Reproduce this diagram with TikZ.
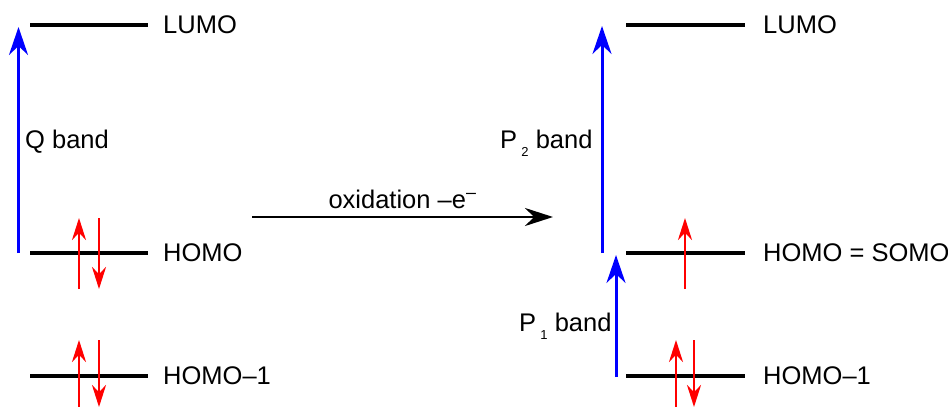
\documentclass[tikz,border=0pt]{standalone}
\usepackage{fontspec}
\setmainfont{Liberation Sans}
\usetikzlibrary{arrows.meta,positioning}

\tikzstyle{level} = [line width=3.2pt]
\tikzstyle{lbl} = [inner sep=0pt]
\tikzstyle{band} = [anchor=base west, inner sep=0pt]
\tikzstyle{excite} = [blue, line width=3pt, -{Stealth[length=28pt,width=19pt]}]
\tikzstyle{spin} = [red, line width=2.6pt, -{Stealth[length=22pt,width=14pt]}]
\tikzstyle{react} = [line width=2.8pt, -{Stealth[length=28pt,width=18pt]}]

\newcommand{\lowsub}[1]{\,\raisebox{-8pt}{\fontsize{13}{13}\selectfont #1}}

\begin{document}
\begin{tikzpicture}[x=1pt, y=-1pt, font=\fontsize{25.5}{30}\selectfont]
\useasboundingbox (0,0) rectangle (948,407);

% neutral molecule
\coordinate (nLa) at (30,25);   \coordinate (nLb) at (148,25);
\coordinate (nHa) at (30,253);  \coordinate (nHb) at (148,253);
\coordinate (nKa) at (30,376);  \coordinate (nKb) at (148,376);
\draw[level] (nLa) -- (nLb);
\draw[level] (nHa) -- (nHb);
\draw[level] (nKa) -- (nKb);
\node[lbl, right=15pt of nLb] (nLumo) {LUMO};
\node[lbl, right=15pt of nHb] (nHomo) {HOMO};
\node[lbl, right=15pt of nKb] (nHomoK) {HOMO–1};

\coordinate (qS) at (18.5,253); \coordinate (qE) at (18.5,27);
\draw[excite] (qS) -- (qE);
\node[band] (qLbl) at (25,148) {Q band};

% electrons
\coordinate (e1a) at (79,289); \coordinate (e1b) at (79,218);
\coordinate (e2a) at (99,218); \coordinate (e2b) at (99,289);
\coordinate (e3a) at (79,407); \coordinate (e3b) at (79,340);
\coordinate (e4a) at (99,340); \coordinate (e4b) at (99,407);
\draw[spin] (e1a) -- (e1b);
\draw[spin] (e2a) -- (e2b);
\draw[spin] (e3a) -- (e3b);
\draw[spin] (e4a) -- (e4b);

% oxidation
\coordinate (oxS) at (252,217); \coordinate (oxE) at (553,217);
\draw[react] (oxS) -- (oxE)
    node[midway, anchor=base, yshift=9pt, inner sep=0pt] (oxLbl) {oxidation –e\textsuperscript{–}};

% cation radical
\coordinate (cLa) at (626,25);   \coordinate (cLb) at (745,25);
\coordinate (cHa) at (626,253);  \coordinate (cHb) at (745,253);
\coordinate (cKa) at (626,376);  \coordinate (cKb) at (745,376);
\draw[level] (cLa) -- (cLb);
\draw[level] (cHa) -- (cHb);
\draw[level] (cKa) -- (cKb);
\node[lbl, right=18pt of cLb] (cLumo) {LUMO};
\node[lbl, right=18pt of cHb] (cSomo) {HOMO = SOMO};
\node[lbl, right=18pt of cKb] (cHomoK) {HOMO–1};

\coordinate (p2S) at (602,253); \coordinate (p2E) at (602,26);
\coordinate (p1S) at (616,377); \coordinate (p1E) at (616,255);
\draw[excite] (p2S) -- (p2E);
\draw[excite] (p1S) -- (p1E);
\node[band] (p2Lbl) at (500,148) {P\lowsub{2} band};
\node[band] (p1Lbl) at (519,331) {P\lowsub{1} band};

\coordinate (s1a) at (685,289); \coordinate (s1b) at (685,218);
\coordinate (s2a) at (676,407); \coordinate (s2b) at (676,340);
\coordinate (s3a) at (694,340); \coordinate (s3b) at (694,407);
\draw[spin] (s1a) -- (s1b);
\draw[spin] (s2a) -- (s2b);
\draw[spin] (s3a) -- (s3b);
\end{tikzpicture}
\end{document}
